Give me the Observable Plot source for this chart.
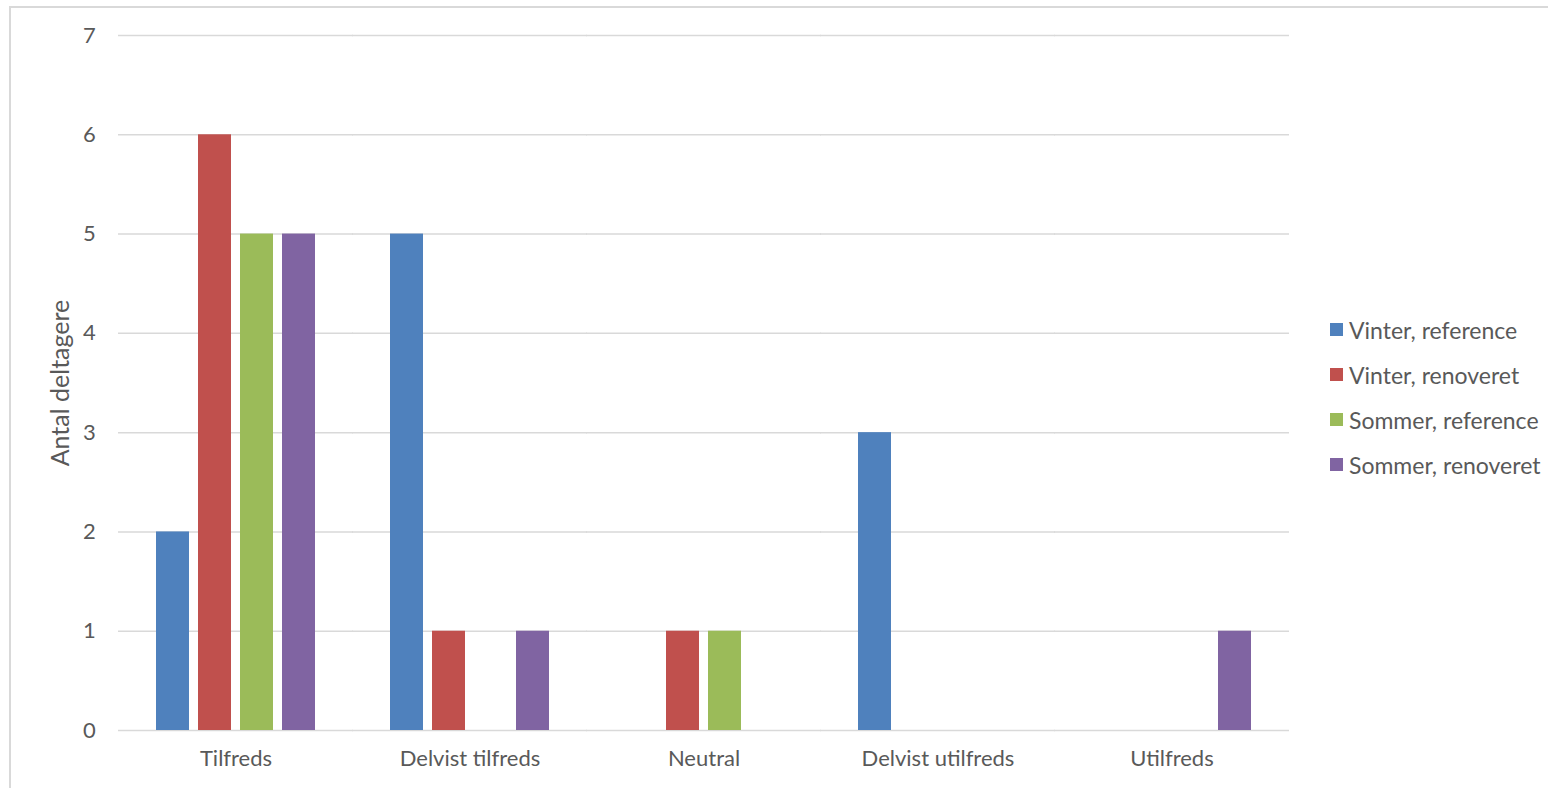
<!DOCTYPE html>
<html>
<head>
<meta charset="utf-8">
<script src="https://cdn.jsdelivr.net/npm/d3@7"></script>
<script src="https://cdn.jsdelivr.net/npm/@observablehq/plot@0.6"></script>
<style>
  html, body { margin: 0; padding: 0; background: #fff; }
  body { width: 1548px; height: 788px; position: relative; overflow: hidden; font-family: Lato, "Open Sans", sans-serif; }
  #frame { position: absolute; left: 9px; top: 6px; width: 1560px; height: 800px; border: 2px solid #d9d9d9; box-sizing: border-box; }
  #chart { position: absolute; left: 0; top: 0; }
  #legend { position: absolute; left: 1330px; top: 307px; color: #595959; font-size: 23px; }
  #legend .row { display: flex; align-items: center; height: 45px; }
  #legend .sw { width: 13px; height: 13px; margin-right: 6px; }
</style>
</head>
<body>
<div id="frame"></div>
<div id="chart"></div>
<div id="legend"></div>
<script>
const categories = ["Tilfreds", "Delvist tilfreds", "Neutral", "Delvist utilfreds", "Utilfreds"];
const series = ["Vinter, reference", "Vinter, renoveret", "Sommer, reference", "Sommer, renoveret"];
const colors = ["#4F81BD", "#C0504D", "#9BBB59", "#8064A2"];
const vinterReference = [2, 5, 0, 3, 0];
const vinterRenoveret = [6, 1, 1, 0, 0];
const sommerReference = [5, 0, 1, 0, 0];
const sommerRenoveret = [5, 1, 0, 0, 1];
const yTicks = [0, 1, 2, 3, 4, 5, 6, 7];
const yTitle = "Antal deltagere";

const seriesValues = [vinterReference, vinterRenoveret, sommerReference, sommerRenoveret];
const rows = [];
categories.forEach((c, i) => {
  series.forEach((s, j) => {
    rows.push({category: c, series: s, value: seriesValues[j][i]});
  });
});

const textColor = "#595959";
const gridColor = "#d9d9d9";
const plotWidth = 1300, mLeft = 118, mRight = 12;
const fxPadInner = 0.314, fxPadOuter = 0.157;
const fxStep = (plotWidth - mLeft - mRight) / (categories.length - fxPadInner + 2 * fxPadOuter);
const gridExtend = -Math.ceil(fxStep * fxPadInner / 2);
const outerGap = fxStep * fxPadOuter;

const chart = Plot.plot({
  width: plotWidth,
  height: 788,
  marginLeft: mLeft,
  marginRight: mRight,
  marginTop: 35,
  marginBottom: 58,
  style: {fontFamily: "Lato, 'Open Sans', sans-serif", fontSize: "22px", color: textColor, background: "transparent"},
  fx: {domain: categories, paddingInner: fxPadInner, paddingOuter: fxPadOuter, label: null},
  x: {domain: series, paddingInner: 0.224, paddingOuter: 0, axis: null},
  y: {domain: [0, 7], label: null},
  color: {domain: series, range: colors},
  marks: [
    Plot.ruleY(yTicks, {y: d => d, stroke: gridColor, strokeWidth: 1.5, insetLeft: gridExtend, insetRight: gridExtend}),
    Plot.barY(rows, {fx: "category", x: "series", y: "value", fill: "series"}),
    Plot.axisY(yTicks, {tickSize: 0, tickPadding: 23 + outerGap, tickFormat: "d", fontSize: 22, fill: textColor, label: null}),
    Plot.axisFx({anchor: "bottom", tickSize: 0, tickPadding: 20, fontSize: 22, fill: textColor, label: null}),
    Plot.text([yTitle], {frameAnchor: "left", dx: -(58 + outerGap), rotate: -90, textAnchor: "middle", fontSize: 25, fill: textColor, facet: "super", text: d => d})
  ]
});
document.getElementById("chart").appendChild(chart);

const legend = document.getElementById("legend");
series.forEach((s, i) => {
  const row = document.createElement("div");
  row.className = "row";
  const sw = document.createElement("div");
  sw.className = "sw";
  sw.style.background = colors[i];
  const label = document.createElement("span");
  label.textContent = s;
  row.appendChild(sw);
  row.appendChild(label);
  legend.appendChild(row);
});
</script>
</body>
</html>
